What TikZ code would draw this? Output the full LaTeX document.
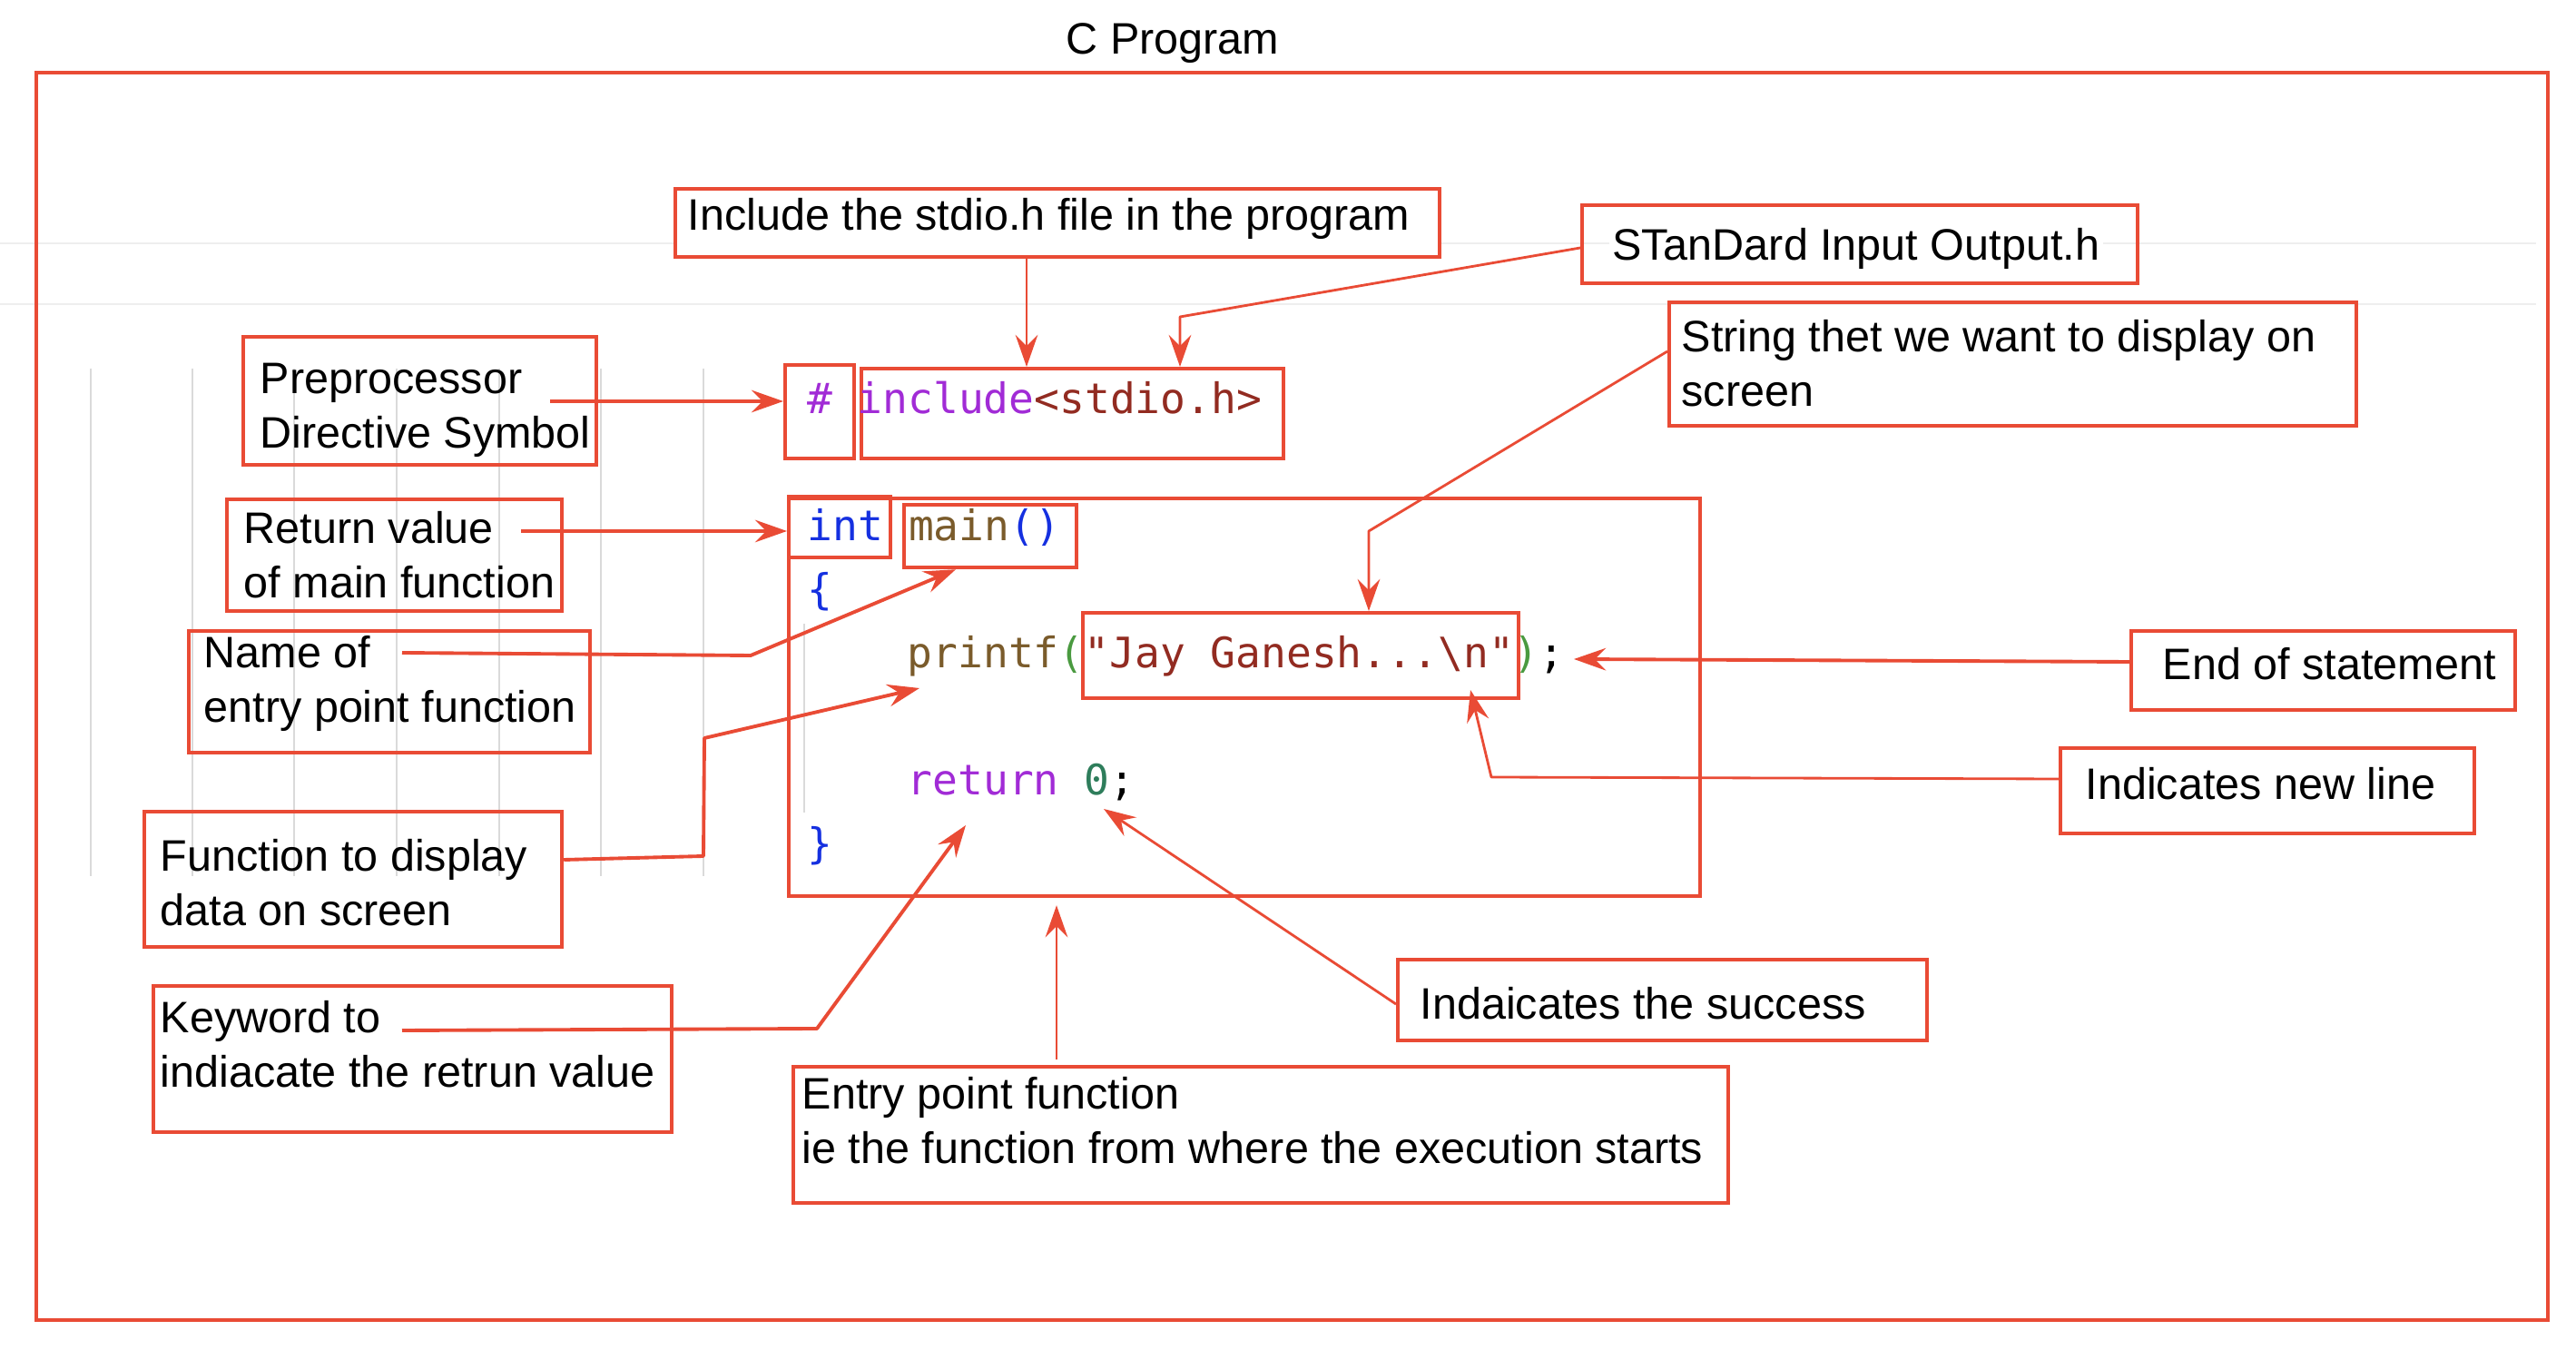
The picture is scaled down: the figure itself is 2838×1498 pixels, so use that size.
\documentclass[tikz,border=0pt]{standalone}
\usepackage{fontspec}
\setmainfont{Liberation Sans}
\setmonofont{DejaVu Sans Mono}
\usetikzlibrary{arrows.meta}
\definecolor{frame}{HTML}{E94B35}
\definecolor{cpurple}{HTML}{A12BD6}
\definecolor{cred}{HTML}{922B21}
\definecolor{cbrown}{HTML}{7A5B2B}
\definecolor{cblue}{HTML}{1530E0}
\definecolor{cgreen}{HTML}{4A9A40}
\definecolor{czero}{HTML}{2E7D5B}
\definecolor{gridgray}{HTML}{DADADA}
\definecolor{bandgray}{HTML}{EEEEEE}
\newcommand\pxbox[6][]{\node[box,#1,anchor=north west,minimum width={(#5-#3)*0.01cm},minimum height={(#6-#4)*0.01cm}] (#2) at (#3,#4) {};}
\begin{document}
\begin{tikzpicture}[x=0.01cm,y=-0.01cm,
  box/.style={draw=frame,line width=1.2pt,inner sep=0pt},
  lbl/.style={anchor=west,inner sep=0pt,align=left,font=\fontsize{13.8}{17}\selectfont},
  code/.style={anchor=base west,inner sep=0pt,font=\ttfamily\fontsize{13.15}{15}\selectfont},
  tip/.style={-{Stealth[length=10pt,width=7pt,inset=3.5pt]}},
  arrthick/.style={draw=frame,line width=1.1pt,line join=round,tip},
  arrthin/.style={draw=frame,line width=0.8pt,line join=round,tip}]
\useasboundingbox (0,0) rectangle (2838,1498);
% faint background lines
\draw[bandgray,line width=0.8pt] (0,268) -- (2794,268);
\draw[bandgray,line width=0.8pt] (0,335) -- (2794,335);
\foreach \x in {100,212,324,437,550,662,775}
  \draw[gridgray,line width=0.4pt] (\x,406) -- (\x,965);
\draw[gridgray,line width=0.4pt] (886,687) -- (886,895);
% title and outer frame
\node[inner sep=0pt,font=\fontsize{13.8}{16}\selectfont] (title) at (1292,48) {C Program};
\pxbox{outer}{38}{78}{2805}{1452}
% label boxes
\pxbox[fill=white]{incl}{742}{206}{1584}{281}
\node[lbl] (inclt) at (757,241) {Include the stdio.h file in the program};
\pxbox{std}{1741}{224}{2353}{310}
\node[lbl,fill=white,inner sep=1pt] (stdt) at (1772,274) {STanDard Input Output.h};
\pxbox{strl}{1837}{331}{2594}{467}
\node[lbl] (strlt) at (1852,400) {String thet we want to display on\\screen};
\pxbox{pre}{266}{369}{655}{510}
\node[lbl] (pret) at (286,452) {Preprocessor\\Directive Symbol};
\pxbox{ret}{248}{548}{617}{671}
\node[lbl] (rett) at (268,611) {Return value\\of main function};
\pxbox{nam}{206}{693}{648}{827}
\node[lbl] (namt) at (224,753) {Name of\\entry point function};
\pxbox{fun}{157}{892}{617}{1041}
\node[lbl] (funt) at (176,972) {Function to display\\data on screen};
\pxbox{key}{167}{1084}{738}{1245}
\node[lbl] (keyt) at (176,1150) {Keyword to\\indiacate the retrun value};
\pxbox{ent}{872}{1173}{1902}{1323}
\node[lbl] (entt) at (883,1234) {Entry point function\\ie the function from where the execution starts};
\pxbox{suc}{1538}{1055}{2121}{1144}
\node[lbl] (suct) at (1564,1105) {Indaicates the success};
\pxbox{eos}{2346}{693}{2769}{780}
\node[lbl] (eost) at (2382,731) {End of statement};
\pxbox{nl}{2268}{822}{2724}{916}
\node[lbl] (nlt) at (2297,863) {Indicates new line};
% code boxes
\pxbox{hashb}{863}{400}{939}{503}
\pxbox{incb}{947}{404}{1412}{503}
\pxbox{codeb}{867}{547}{1871}{985}
\pxbox{intb}{867}{545}{979}{612}
\pxbox{mainb}{994}{554}{1184}{623}
\pxbox{jayb}{1191}{673}{1671}{767}
% code text
\node[code,text=cpurple] (hash) at (889,456) {\#};
\node[code] (incl2) at (944,456) {\textcolor{cpurple}{include}\textcolor{cred}{<stdio.h>}};
\node[code] (l1) at (889,596) {\textcolor{cblue}{int} \textcolor{cbrown}{main}\textcolor{cblue}{()}};
\node[code,text=cblue] (l2) at (889,666) {\{};
\node[code] (l3) at (999,736) {\textcolor{cbrown}{printf}\textcolor{cgreen}{(}\textcolor{cred}{"Jay Ganesh...\textbackslash n"}\textcolor{cgreen}{)};};
\node[code] (l5) at (999,876) {\textcolor{cpurple}{return} \textcolor{czero}{0};};
\node[code,text=cblue] (l6) at (889,946) {\}};
% connectors
\coordinate (aX) at (1131,0);
\draw[arrthin] (incl.south -| aX) -- (incb.north -| aX);
\coordinate (bS) at (1741,273); \coordinate (bK) at (1300,349);
\draw[arrthin] (std.west |- bS) -- (bK) -- (incb.north -| bK);
\coordinate (cS) at (606,442);
\draw[arrthick] (cS) -- (hashb.west |- cS);
\coordinate (dS) at (574,585);
\draw[arrthick] (dS) -- (intb.west |- dS);
\coordinate (eS) at (443,719); \coordinate (eK) at (827,722); \coordinate (eE) at (1053,0);
\draw[arrthick] (eS) -- (eK) -- (mainb.south -| eE);
\coordinate (fS) at (619,947); \coordinate (fK1) at (775,943); \coordinate (fK2) at (776,813); \coordinate (fE) at (1013,758);
\draw[arrthick] (fun.east |- fS) -- (fK1) -- (fK2) -- (fE);
\coordinate (gS) at (443,1135); \coordinate (gK) at (900,1133); \coordinate (gE) at (1064,909);
\draw[arrthick] (gS) -- (gK) -- (gE);
\coordinate (hX) at (1164,0);
\draw[arrthin,shorten >=0.08cm,shorten <=0.06cm] (ent.north -| hX) -- (codeb.south -| hX);
\coordinate (iS) at (1537,1106); \coordinate (iE) at (1216,891);
\draw[arrthin] (suc.west |- iS) -- (iE);
\coordinate (jS) at (1837,387); \coordinate (jK) at (1508,585);
\draw[arrthin] (strl.west |- jS) -- (jK) -- (jayb.north -| jK);
\coordinate (kS) at (2346,729); \coordinate (kE) at (1734,726);
\draw[arrthick] (eos.west |- kS) -- (kE);
\coordinate (lS) at (2268,858); \coordinate (lK) at (1643,856); \coordinate (lE) at (1620,760);
\draw[arrthin] (nl.west |- lS) -- (lK) -- (lE);
\end{tikzpicture}
\end{document}
